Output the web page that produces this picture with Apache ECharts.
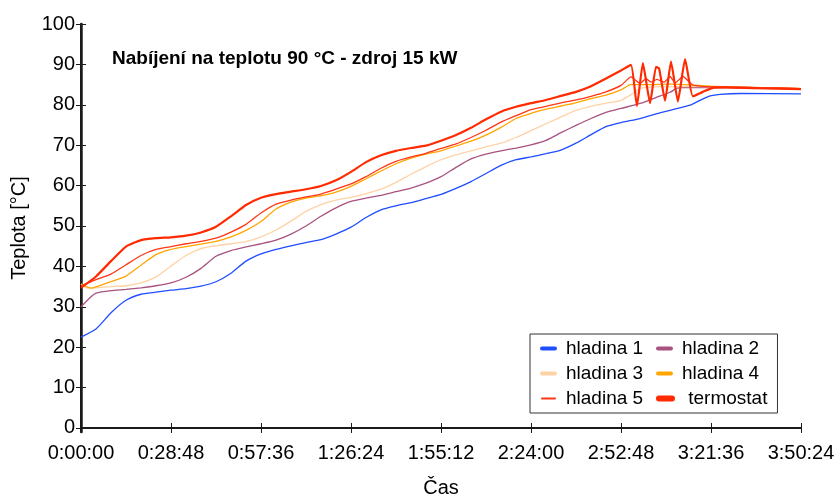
<!DOCTYPE html>
<html>
<head>
<meta charset="utf-8">
<script src="https://cdn.jsdelivr.net/npm/echarts@6/dist/echarts.min.js"></script>
<style>
  html, body { margin: 0; padding: 0; background: #fff; }
  #chart { width: 840px; height: 495px; }
</style>
</head>
<body>
<div id="chart"></div>
<script>
// Čas v minutách od začátku nabíjení, teplota ve °C
const hladina1 = [
  [0, 22.5], [4.8, 24.5], [9.6, 28.5], [14.4, 31.6], [19.2, 33.1], [24, 33.6], [28.8, 34.1],
  [33.6, 34.5], [38.4, 35.1], [43.2, 36.2], [48, 38.3], [52.8, 41.3], [57.6, 43.1], [62.4, 44.2],
  [67.2, 45.1], [72, 45.9], [76.8, 46.6], [81.6, 48.0], [86.4, 49.7], [91.2, 52.1], [96, 54.0],
  [100.8, 55.0], [105.6, 55.8], [110.4, 56.8], [115.2, 57.8], [120, 59.3], [124.8, 61.0],
  [129.6, 63.0], [134.4, 65.0], [139.2, 66.4], [144, 67.1], [148.8, 67.9], [153.6, 68.8],
  [158.4, 70.5], [163.2, 72.6], [168, 74.6], [172.8, 75.6], [178.9, 76.6], [184.3, 77.8],
  [189.4, 78.8], [194.9, 79.9], [198.1, 81.1], [201.3, 82.2], [204.5, 82.6], [211.2, 82.8],
  [230.4, 82.7]
];
const hladina2 = [
  [0, 30.0], [3.2, 32.5], [4.8, 33.4], [9.6, 34.0], [14.4, 34.3], [19.2, 34.7], [24, 35.2],
  [28.8, 35.9], [33.6, 37.3], [38.4, 39.5], [43.2, 42.5], [48, 43.9], [52.8, 44.8], [57.6, 45.6],
  [62.4, 46.5], [67.2, 48.0], [72, 50.0], [76.8, 52.4], [81.6, 54.5], [86.4, 56.1], [91.2, 56.9],
  [96, 57.6], [100.8, 58.5], [105.6, 59.4], [110.4, 60.6], [115.2, 62.2], [120, 64.5],
  [124.8, 66.6], [129.6, 67.8], [134.4, 68.6], [139.2, 69.3], [144, 70.1], [148.8, 71.2],
  [153.6, 73.1], [158.4, 74.9], [163.2, 76.6], [168, 78.1], [172.8, 79.1], [179.2, 80.4],
  [184, 81.8], [188.5, 83.1], [190.7, 84.1], [194.9, 84.3], [211.2, 84.2], [230.4, 84.0]
];
const hladina3 = [
  [0, 35.6], [2.2, 34.6], [4.8, 34.7], [9.6, 35.0], [14.4, 35.2], [19.2, 35.9], [24, 37.4],
  [28.8, 40.1], [33.6, 42.7], [38.4, 44.4], [43.2, 45.1], [48, 45.6], [52.8, 46.1], [57.6, 47.3],
  [62.4, 49.0], [67.2, 51.2], [72, 53.6], [76.8, 55.3], [81.6, 56.4], [86.4, 57.1], [91.2, 58.0],
  [96, 59.1], [100.8, 60.8], [105.6, 62.8], [110.4, 64.7], [115.2, 66.4], [120, 67.6],
  [124.8, 68.6], [129.6, 69.6], [134.4, 70.5], [139.2, 71.9], [144, 73.6], [148.8, 75.3],
  [153.6, 77.0], [158.4, 78.6], [163.2, 79.6], [168, 80.4], [172.8, 81.1], [176.6, 82.8],
  [179.2, 84.1], [185.6, 84.5], [198.4, 84.5], [211.2, 84.3], [230.4, 84.0]
];
const hladina4 = [
  [0, 35.7], [3.3, 34.6], [4.8, 34.9], [9.6, 36.2], [14.4, 37.6], [19.2, 40.3], [24, 42.9],
  [28.8, 44.2], [33.6, 44.9], [38.4, 45.5], [43.2, 46.2], [48, 47.3], [52.8, 48.9], [57.6, 51.1],
  [62.4, 54.2], [67.2, 55.9], [72, 56.9], [76.8, 57.5], [81.6, 58.4], [86.4, 59.8], [91.2, 61.7],
  [96, 63.6], [100.8, 65.4], [105.6, 66.8], [110.4, 67.8], [115.2, 68.6], [120, 69.8],
  [124.8, 71.0], [129.6, 72.5], [134.4, 74.4], [139.2, 76.6], [144, 77.9], [148.8, 78.9],
  [153.6, 79.7], [158.4, 80.5], [163.2, 81.5], [168, 82.4], [172.8, 83.7], [176, 85.0],
  [182.4, 85.0], [188.8, 85.1], [195.2, 84.9], [201.6, 84.6], [208, 84.4], [220.8, 84.2],
  [230.4, 84.0]
];
const hladina5 = [
  [0, 35.2], [4.8, 36.7], [9.6, 38.1], [14.4, 40.4], [19.2, 42.7], [24, 44.2], [28.8, 44.9],
  [33.6, 45.6], [38.4, 46.2], [43.2, 47.0], [48, 48.5], [52.8, 50.4], [57.6, 53.2], [62.4, 55.4],
  [67.2, 56.4], [72, 57.2], [76.8, 57.9], [81.6, 59.1], [86.4, 60.4], [91.2, 62.2], [96, 64.3],
  [100.8, 66.0], [105.6, 67.1], [110.4, 68.0], [115.2, 69.2], [120, 70.3], [124.8, 71.9],
  [129.6, 73.7], [134.4, 75.7], [139.2, 77.3], [144, 78.8], [148.8, 79.6], [153.6, 80.5],
  [158.4, 81.2], [163.2, 82.1], [168, 83.2], [172.8, 84.8], [176, 86.9], [178.9, 85.3],
  [180.8, 86.5], [182.4, 85.6], [184.3, 86.3], [186.6, 85.6], [188.5, 87.0], [190.1, 85.4],
  [192.6, 87.0], [195.8, 84.9], [200, 84.5], [206.4, 84.4], [220.8, 84.2], [230.4, 84.0]
];
const termostat = [
  [0, 34.7], [4.8, 37.5], [9.6, 41.3], [14.4, 44.9], [19.2, 46.5], [24, 47.0], [28.8, 47.2],
  [33.6, 47.6], [38.4, 48.4], [43.2, 49.8], [48, 52.4], [52.8, 55.2], [57.6, 57.0], [62.4, 57.9],
  [67.2, 58.5], [72, 59.1], [76.8, 59.9], [81.6, 61.3], [86.4, 63.4], [91.2, 65.8], [96, 67.5],
  [100.8, 68.6], [105.6, 69.3], [110.4, 69.9], [115.2, 71.1], [120, 72.5], [124.8, 74.3],
  [129.6, 76.4], [134.4, 78.3], [139.2, 79.5], [144, 80.4], [148.8, 81.2], [153.6, 82.2],
  [158.4, 83.2], [163.2, 84.6], [168, 86.5], [172.8, 88.5], [176, 89.9], [177.9, 79.7],
  [179.8, 90.3], [182.1, 80.4], [184, 89.4], [185, 89.0], [186.9, 81.0], [188.8, 90.7],
  [191, 80.8], [193.3, 91.3], [195.8, 82.1], [199, 83.2], [202.2, 84.2], [206.4, 84.3],
  [216, 84.1], [230.4, 83.9]
];

const nazvyRad = ['hladina 1', 'hladina 2', 'hladina 3', 'hladina 4', 'hladina 5', 'termostat'];
const barvyRad = ['#1f4dff', '#a8527f', '#ffd2a6', '#ffa500', '#ff3516', '#ff2a00'];
const tloustkyCar = [1.3, 1.3, 1.3, 1.3, 1.3, 2.2];
const tloustkyLegendy = [4, 4, 4, 4, 2, 6];
const vyhlazeni = [0.2, 0.2, 0.2, 0.2, 0.15, 0.15];
const datoveRady = [hladina1, hladina2, hladina3, hladina4, hladina5, termostat];

const teplotniZnacky = [0, 10, 20, 30, 40, 50, 60, 70, 80, 90, 100];
const krokCasu = 28.8;       // 0:28:48
const konecCasu = 230.4;     // 3:50:24

function casText(minuty) {
  const s = Math.round(minuty * 60);
  const h = Math.floor(s / 3600);
  const m = Math.floor((s % 3600) / 60);
  const sec = s % 60;
  return h + ':' + String(m).padStart(2, '0') + ':' + String(sec).padStart(2, '0');
}

const pismo = '"Liberation Sans", Arial, sans-serif';
const osaBarva = '#1a1a1a';

const chart = echarts.init(document.getElementById('chart'), null, { renderer: 'canvas' });

chart.setOption({
  animation: false,
  backgroundColor: '#fff',
  textStyle: { fontFamily: pismo },
  title: {
    text: 'Nabíjení na teplotu 90 °C - zdroj 15 kW',
    left: 107,
    top: 44,
    textStyle: { fontFamily: pismo, fontSize: 19, fontWeight: 'bold', color: '#000' }
  },
  grid: { left: 81, right: 39, top: 24, bottom: 63, outerBoundsMode: 'none' },
  legend: {
    left: 530,
    top: 334,
    width: 230,
    orient: 'horizontal',
    padding: [5, 10, 5, 10],
    itemGap: 6,
    itemWidth: 13,
    itemHeight: 6,
    borderColor: '#333',
    borderWidth: 1,
    backgroundColor: '#fff',
    formatter: n => (n === 'termostat' ? ' ' + n : n),
    textStyle: { fontFamily: pismo, fontSize: 19, color: '#000', width: 84, lineHeight: 18.5,
                 padding: [0, 0, 0, 6] },
    data: nazvyRad.map((n, i) => ({
      name: n,
      itemStyle: { opacity: 0 },
      lineStyle: { width: tloustkyLegendy[i], cap: 'round', color: barvyRad[i] }
    }))
  },
  xAxis: [
    {
      type: 'value', min: 0, max: konecCasu, interval: krokCasu, position: 'bottom',
      name: 'Čas', nameLocation: 'middle', nameGap: 46,
      nameTextStyle: { fontFamily: pismo, fontSize: 20, color: '#000' },
      axisLine: { show: true, lineStyle: { color: osaBarva, width: 2 } },
      axisTick: { show: true, inside: true, length: 5, lineStyle: { color: osaBarva, width: 1 } },
      axisLabel: { formatter: casText, fontFamily: pismo, fontSize: 20, color: '#000', margin: 11,
                   showMinLabel: true, showMaxLabel: true },
      splitLine: { show: false }
    },
    {
      type: 'value', min: 0, max: konecCasu, interval: krokCasu, position: 'top',
      axisLine: { show: true, lineStyle: { color: osaBarva, width: 2 } },
      axisTick: { show: true, inside: true, length: 5, lineStyle: { color: osaBarva, width: 1 } },
      axisLabel: { show: false },
      splitLine: { show: false }
    }
  ],
  yAxis: [
    {
      type: 'value', min: -1, max: 100, position: 'left',
      name: 'Teplota [°C]', nameLocation: 'middle', nameGap: 52, nameRotate: 90,
      nameTextStyle: { fontFamily: pismo, fontSize: 20, color: '#000' },
      axisLine: { show: true, lineStyle: { color: osaBarva, width: 2 } },
      axisTick: { show: true, inside: true, length: 5, customValues: teplotniZnacky,
                  lineStyle: { color: osaBarva, width: 1 } },
      axisLabel: { customValues: teplotniZnacky, fontFamily: pismo, fontSize: 20, color: '#000', margin: 6 },
      splitLine: { show: false }
    },
    {
      type: 'value', min: -1, max: 100, position: 'right',
      axisLine: { show: true, lineStyle: { color: osaBarva, width: 2.5 } },
      axisTick: { show: true, inside: true, length: 5, customValues: teplotniZnacky,
                  lineStyle: { color: osaBarva, width: 1 } },
      axisLabel: { show: false },
      splitLine: { show: false }
    }
  ],
  series: datoveRady.map((d, i) => ({
    name: nazvyRad[i],
    type: 'line',
    xAxisIndex: 0,
    yAxisIndex: 0,
    data: d,
    showSymbol: false,
    symbol: 'none',
    smooth: vyhlazeni[i],
    color: barvyRad[i],
    lineStyle: { color: barvyRad[i], width: tloustkyCar[i] },
    z: 2 + i
  }))
});
</script>
</body>
</html>
